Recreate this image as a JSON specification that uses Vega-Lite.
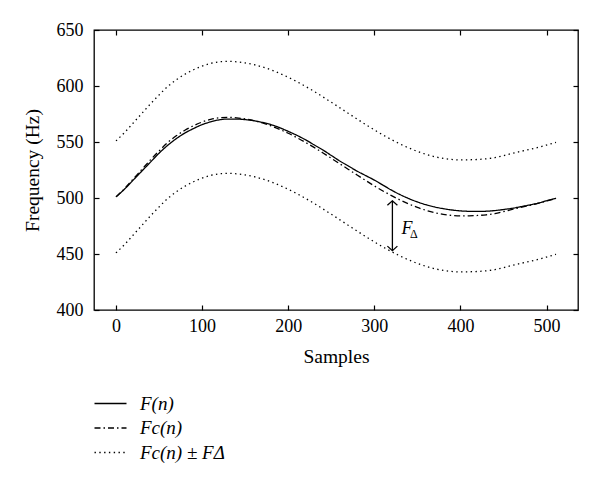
{
  "$schema": "https://vega.github.io/schema/vega-lite/v6.json",
  "width": 484,
  "height": 280,
  "autosize": {"type": "none"},
  "padding": {"left": 94, "top": 30, "right": 22, "bottom": 188},
  "background": "white",
  "config": {
    "view": {"stroke": "black", "strokeWidth": 1.3},
    "font": "Liberation Serif",
    "axis": {
      "domain": false,
      "grid": false,
      "tickSize": -5,
      "tickColor": "black",
      "tickWidth": 1.2,
      "labelColor": "black",
      "labelFont": "Liberation Serif",
      "labelFontSize": 18,
      "titleFont": "Liberation Serif",
      "titleFontSize": 19.5,
      "titleFontWeight": "normal",
      "titleColor": "black"
    },
    "legend": {
      "orient": "none",
      "legendX": 7,
      "legendY": 364,
      "symbolType": "M-3.2,0H3.2",
      "symbolSize": 100,
      "symbolStrokeWidth": 1.3,
      "symbolStrokeColor": "black",
      "labelFont": "Liberation Serif",
      "labelFontStyle": "italic",
      "labelFontSize": 19,
      "labelColor": "black",
      "labelOffset": 20,
      "rowPadding": 4.5,
      "title": null
    }
  },
  "datasets": {
    "curves": [
      {"sample":0,"freq":501,"series":"F(n)","part":"a"},
      {"sample":10,"freq":508,"series":"F(n)","part":"a"},
      {"sample":20,"freq":516,"series":"F(n)","part":"a"},
      {"sample":30,"freq":524,"series":"F(n)","part":"a"},
      {"sample":40,"freq":532,"series":"F(n)","part":"a"},
      {"sample":50,"freq":540,"series":"F(n)","part":"a"},
      {"sample":60,"freq":547,"series":"F(n)","part":"a"},
      {"sample":70,"freq":553,"series":"F(n)","part":"a"},
      {"sample":80,"freq":558,"series":"F(n)","part":"a"},
      {"sample":90,"freq":562,"series":"F(n)","part":"a"},
      {"sample":100,"freq":565.5,"series":"F(n)","part":"a"},
      {"sample":110,"freq":568,"series":"F(n)","part":"a"},
      {"sample":120,"freq":569.8,"series":"F(n)","part":"a"},
      {"sample":130,"freq":570.5,"series":"F(n)","part":"a"},
      {"sample":140,"freq":570.5,"series":"F(n)","part":"a"},
      {"sample":150,"freq":570,"series":"F(n)","part":"a"},
      {"sample":160,"freq":569,"series":"F(n)","part":"a"},
      {"sample":170,"freq":567.5,"series":"F(n)","part":"a"},
      {"sample":180,"freq":565.5,"series":"F(n)","part":"a"},
      {"sample":190,"freq":562.8,"series":"F(n)","part":"a"},
      {"sample":200,"freq":559.5,"series":"F(n)","part":"a"},
      {"sample":210,"freq":556,"series":"F(n)","part":"a"},
      {"sample":220,"freq":552,"series":"F(n)","part":"a"},
      {"sample":230,"freq":547.5,"series":"F(n)","part":"a"},
      {"sample":240,"freq":543,"series":"F(n)","part":"a"},
      {"sample":250,"freq":538,"series":"F(n)","part":"a"},
      {"sample":260,"freq":533,"series":"F(n)","part":"a"},
      {"sample":270,"freq":528.5,"series":"F(n)","part":"a"},
      {"sample":280,"freq":524,"series":"F(n)","part":"a"},
      {"sample":290,"freq":520,"series":"F(n)","part":"a"},
      {"sample":300,"freq":516,"series":"F(n)","part":"a"},
      {"sample":310,"freq":511.5,"series":"F(n)","part":"a"},
      {"sample":320,"freq":507,"series":"F(n)","part":"a"},
      {"sample":330,"freq":503,"series":"F(n)","part":"a"},
      {"sample":340,"freq":499.5,"series":"F(n)","part":"a"},
      {"sample":350,"freq":496.5,"series":"F(n)","part":"a"},
      {"sample":360,"freq":494,"series":"F(n)","part":"a"},
      {"sample":370,"freq":492,"series":"F(n)","part":"a"},
      {"sample":380,"freq":490.5,"series":"F(n)","part":"a"},
      {"sample":390,"freq":489.3,"series":"F(n)","part":"a"},
      {"sample":400,"freq":488.5,"series":"F(n)","part":"a"},
      {"sample":410,"freq":488.1,"series":"F(n)","part":"a"},
      {"sample":420,"freq":488,"series":"F(n)","part":"a"},
      {"sample":430,"freq":488.2,"series":"F(n)","part":"a"},
      {"sample":440,"freq":488.8,"series":"F(n)","part":"a"},
      {"sample":450,"freq":489.7,"series":"F(n)","part":"a"},
      {"sample":460,"freq":490.8,"series":"F(n)","part":"a"},
      {"sample":470,"freq":492.2,"series":"F(n)","part":"a"},
      {"sample":480,"freq":493.7,"series":"F(n)","part":"a"},
      {"sample":490,"freq":495.4,"series":"F(n)","part":"a"},
      {"sample":500,"freq":497.5,"series":"F(n)","part":"a"},
      {"sample":511,"freq":499.7,"series":"F(n)","part":"a"},

      {"sample":0,"freq":501,"series":"Fc(n)","part":"a"},
      {"sample":10,"freq":508.5,"series":"Fc(n)","part":"a"},
      {"sample":20,"freq":517,"series":"Fc(n)","part":"a"},
      {"sample":30,"freq":525.5,"series":"Fc(n)","part":"a"},
      {"sample":40,"freq":534,"series":"Fc(n)","part":"a"},
      {"sample":50,"freq":542,"series":"Fc(n)","part":"a"},
      {"sample":60,"freq":549.5,"series":"Fc(n)","part":"a"},
      {"sample":70,"freq":555.5,"series":"Fc(n)","part":"a"},
      {"sample":80,"freq":560.5,"series":"Fc(n)","part":"a"},
      {"sample":90,"freq":564.5,"series":"Fc(n)","part":"a"},
      {"sample":100,"freq":567.8,"series":"Fc(n)","part":"a"},
      {"sample":110,"freq":570.2,"series":"Fc(n)","part":"a"},
      {"sample":120,"freq":571.6,"series":"Fc(n)","part":"a"},
      {"sample":130,"freq":572,"series":"Fc(n)","part":"a"},
      {"sample":140,"freq":571.6,"series":"Fc(n)","part":"a"},
      {"sample":150,"freq":570.6,"series":"Fc(n)","part":"a"},
      {"sample":160,"freq":569.1,"series":"Fc(n)","part":"a"},
      {"sample":170,"freq":567,"series":"Fc(n)","part":"a"},
      {"sample":180,"freq":564.4,"series":"Fc(n)","part":"a"},
      {"sample":190,"freq":561.3,"series":"Fc(n)","part":"a"},
      {"sample":200,"freq":557.8,"series":"Fc(n)","part":"a"},
      {"sample":210,"freq":553.9,"series":"Fc(n)","part":"a"},
      {"sample":220,"freq":549.7,"series":"Fc(n)","part":"a"},
      {"sample":230,"freq":545.2,"series":"Fc(n)","part":"a"},
      {"sample":240,"freq":540.4,"series":"Fc(n)","part":"a"},
      {"sample":250,"freq":535.5,"series":"Fc(n)","part":"a"},
      {"sample":260,"freq":530.5,"series":"Fc(n)","part":"a"},
      {"sample":270,"freq":525.5,"series":"Fc(n)","part":"a"},
      {"sample":280,"freq":520.5,"series":"Fc(n)","part":"a"},
      {"sample":290,"freq":515.6,"series":"Fc(n)","part":"a"},
      {"sample":300,"freq":510.8,"series":"Fc(n)","part":"a"},
      {"sample":310,"freq":506.3,"series":"Fc(n)","part":"a"},
      {"sample":320,"freq":502.1,"series":"Fc(n)","part":"a"},
      {"sample":330,"freq":498.2,"series":"Fc(n)","part":"a"},
      {"sample":340,"freq":494.7,"series":"Fc(n)","part":"a"},
      {"sample":350,"freq":491.6,"series":"Fc(n)","part":"a"},
      {"sample":360,"freq":489,"series":"Fc(n)","part":"a"},
      {"sample":370,"freq":486.9,"series":"Fc(n)","part":"a"},
      {"sample":380,"freq":485.4,"series":"Fc(n)","part":"a"},
      {"sample":390,"freq":484.4,"series":"Fc(n)","part":"a"},
      {"sample":400,"freq":484,"series":"Fc(n)","part":"a"},
      {"sample":410,"freq":484.1,"series":"Fc(n)","part":"a"},
      {"sample":420,"freq":484.4,"series":"Fc(n)","part":"a"},
      {"sample":430,"freq":485,"series":"Fc(n)","part":"a"},
      {"sample":440,"freq":486,"series":"Fc(n)","part":"a"},
      {"sample":450,"freq":487.8,"series":"Fc(n)","part":"a"},
      {"sample":460,"freq":489.8,"series":"Fc(n)","part":"a"},
      {"sample":470,"freq":491.6,"series":"Fc(n)","part":"a"},
      {"sample":480,"freq":493.3,"series":"Fc(n)","part":"a"},
      {"sample":490,"freq":495.1,"series":"Fc(n)","part":"a"},
      {"sample":500,"freq":497.3,"series":"Fc(n)","part":"a"},
      {"sample":511,"freq":499.7,"series":"Fc(n)","part":"a"},

      {"sample":0,"freq":551,"series":"Fc(n) ± FΔ","part":"upper"},
      {"sample":10,"freq":558.5,"series":"Fc(n) ± FΔ","part":"upper"},
      {"sample":20,"freq":567,"series":"Fc(n) ± FΔ","part":"upper"},
      {"sample":30,"freq":575.5,"series":"Fc(n) ± FΔ","part":"upper"},
      {"sample":40,"freq":584,"series":"Fc(n) ± FΔ","part":"upper"},
      {"sample":50,"freq":592,"series":"Fc(n) ± FΔ","part":"upper"},
      {"sample":60,"freq":599.5,"series":"Fc(n) ± FΔ","part":"upper"},
      {"sample":70,"freq":605.5,"series":"Fc(n) ± FΔ","part":"upper"},
      {"sample":80,"freq":610.5,"series":"Fc(n) ± FΔ","part":"upper"},
      {"sample":90,"freq":614.5,"series":"Fc(n) ± FΔ","part":"upper"},
      {"sample":100,"freq":617.8,"series":"Fc(n) ± FΔ","part":"upper"},
      {"sample":110,"freq":620.2,"series":"Fc(n) ± FΔ","part":"upper"},
      {"sample":120,"freq":621.6,"series":"Fc(n) ± FΔ","part":"upper"},
      {"sample":130,"freq":622,"series":"Fc(n) ± FΔ","part":"upper"},
      {"sample":140,"freq":621.6,"series":"Fc(n) ± FΔ","part":"upper"},
      {"sample":150,"freq":620.6,"series":"Fc(n) ± FΔ","part":"upper"},
      {"sample":160,"freq":619.1,"series":"Fc(n) ± FΔ","part":"upper"},
      {"sample":170,"freq":617,"series":"Fc(n) ± FΔ","part":"upper"},
      {"sample":180,"freq":614.4,"series":"Fc(n) ± FΔ","part":"upper"},
      {"sample":190,"freq":611.3,"series":"Fc(n) ± FΔ","part":"upper"},
      {"sample":200,"freq":607.8,"series":"Fc(n) ± FΔ","part":"upper"},
      {"sample":210,"freq":603.9,"series":"Fc(n) ± FΔ","part":"upper"},
      {"sample":220,"freq":599.7,"series":"Fc(n) ± FΔ","part":"upper"},
      {"sample":230,"freq":595.2,"series":"Fc(n) ± FΔ","part":"upper"},
      {"sample":240,"freq":590.4,"series":"Fc(n) ± FΔ","part":"upper"},
      {"sample":250,"freq":585.5,"series":"Fc(n) ± FΔ","part":"upper"},
      {"sample":260,"freq":580.5,"series":"Fc(n) ± FΔ","part":"upper"},
      {"sample":270,"freq":575.5,"series":"Fc(n) ± FΔ","part":"upper"},
      {"sample":280,"freq":570.5,"series":"Fc(n) ± FΔ","part":"upper"},
      {"sample":290,"freq":565.6,"series":"Fc(n) ± FΔ","part":"upper"},
      {"sample":300,"freq":560.8,"series":"Fc(n) ± FΔ","part":"upper"},
      {"sample":310,"freq":556.3,"series":"Fc(n) ± FΔ","part":"upper"},
      {"sample":320,"freq":552.1,"series":"Fc(n) ± FΔ","part":"upper"},
      {"sample":330,"freq":548.2,"series":"Fc(n) ± FΔ","part":"upper"},
      {"sample":340,"freq":544.7,"series":"Fc(n) ± FΔ","part":"upper"},
      {"sample":350,"freq":541.6,"series":"Fc(n) ± FΔ","part":"upper"},
      {"sample":360,"freq":539,"series":"Fc(n) ± FΔ","part":"upper"},
      {"sample":370,"freq":536.9,"series":"Fc(n) ± FΔ","part":"upper"},
      {"sample":380,"freq":535.4,"series":"Fc(n) ± FΔ","part":"upper"},
      {"sample":390,"freq":534.4,"series":"Fc(n) ± FΔ","part":"upper"},
      {"sample":400,"freq":534,"series":"Fc(n) ± FΔ","part":"upper"},
      {"sample":410,"freq":534.1,"series":"Fc(n) ± FΔ","part":"upper"},
      {"sample":420,"freq":534.4,"series":"Fc(n) ± FΔ","part":"upper"},
      {"sample":430,"freq":535,"series":"Fc(n) ± FΔ","part":"upper"},
      {"sample":440,"freq":536,"series":"Fc(n) ± FΔ","part":"upper"},
      {"sample":450,"freq":537.8,"series":"Fc(n) ± FΔ","part":"upper"},
      {"sample":460,"freq":539.8,"series":"Fc(n) ± FΔ","part":"upper"},
      {"sample":470,"freq":541.6,"series":"Fc(n) ± FΔ","part":"upper"},
      {"sample":480,"freq":543.3,"series":"Fc(n) ± FΔ","part":"upper"},
      {"sample":490,"freq":545.1,"series":"Fc(n) ± FΔ","part":"upper"},
      {"sample":500,"freq":547.3,"series":"Fc(n) ± FΔ","part":"upper"},
      {"sample":511,"freq":549.7,"series":"Fc(n) ± FΔ","part":"upper"},

      {"sample":0,"freq":451,"series":"Fc(n) ± FΔ","part":"lower"},
      {"sample":10,"freq":458.5,"series":"Fc(n) ± FΔ","part":"lower"},
      {"sample":20,"freq":467,"series":"Fc(n) ± FΔ","part":"lower"},
      {"sample":30,"freq":475.5,"series":"Fc(n) ± FΔ","part":"lower"},
      {"sample":40,"freq":484,"series":"Fc(n) ± FΔ","part":"lower"},
      {"sample":50,"freq":492,"series":"Fc(n) ± FΔ","part":"lower"},
      {"sample":60,"freq":499.5,"series":"Fc(n) ± FΔ","part":"lower"},
      {"sample":70,"freq":505.5,"series":"Fc(n) ± FΔ","part":"lower"},
      {"sample":80,"freq":510.5,"series":"Fc(n) ± FΔ","part":"lower"},
      {"sample":90,"freq":514.5,"series":"Fc(n) ± FΔ","part":"lower"},
      {"sample":100,"freq":517.8,"series":"Fc(n) ± FΔ","part":"lower"},
      {"sample":110,"freq":520.2,"series":"Fc(n) ± FΔ","part":"lower"},
      {"sample":120,"freq":521.6,"series":"Fc(n) ± FΔ","part":"lower"},
      {"sample":130,"freq":522,"series":"Fc(n) ± FΔ","part":"lower"},
      {"sample":140,"freq":521.6,"series":"Fc(n) ± FΔ","part":"lower"},
      {"sample":150,"freq":520.6,"series":"Fc(n) ± FΔ","part":"lower"},
      {"sample":160,"freq":519.1,"series":"Fc(n) ± FΔ","part":"lower"},
      {"sample":170,"freq":517,"series":"Fc(n) ± FΔ","part":"lower"},
      {"sample":180,"freq":514.4,"series":"Fc(n) ± FΔ","part":"lower"},
      {"sample":190,"freq":511.3,"series":"Fc(n) ± FΔ","part":"lower"},
      {"sample":200,"freq":507.8,"series":"Fc(n) ± FΔ","part":"lower"},
      {"sample":210,"freq":503.9,"series":"Fc(n) ± FΔ","part":"lower"},
      {"sample":220,"freq":499.7,"series":"Fc(n) ± FΔ","part":"lower"},
      {"sample":230,"freq":495.2,"series":"Fc(n) ± FΔ","part":"lower"},
      {"sample":240,"freq":490.4,"series":"Fc(n) ± FΔ","part":"lower"},
      {"sample":250,"freq":485.5,"series":"Fc(n) ± FΔ","part":"lower"},
      {"sample":260,"freq":480.5,"series":"Fc(n) ± FΔ","part":"lower"},
      {"sample":270,"freq":475.5,"series":"Fc(n) ± FΔ","part":"lower"},
      {"sample":280,"freq":470.5,"series":"Fc(n) ± FΔ","part":"lower"},
      {"sample":290,"freq":465.6,"series":"Fc(n) ± FΔ","part":"lower"},
      {"sample":300,"freq":460.8,"series":"Fc(n) ± FΔ","part":"lower"},
      {"sample":310,"freq":456.3,"series":"Fc(n) ± FΔ","part":"lower"},
      {"sample":320,"freq":452.1,"series":"Fc(n) ± FΔ","part":"lower"},
      {"sample":330,"freq":448.2,"series":"Fc(n) ± FΔ","part":"lower"},
      {"sample":340,"freq":444.7,"series":"Fc(n) ± FΔ","part":"lower"},
      {"sample":350,"freq":441.6,"series":"Fc(n) ± FΔ","part":"lower"},
      {"sample":360,"freq":439,"series":"Fc(n) ± FΔ","part":"lower"},
      {"sample":370,"freq":436.9,"series":"Fc(n) ± FΔ","part":"lower"},
      {"sample":380,"freq":435.4,"series":"Fc(n) ± FΔ","part":"lower"},
      {"sample":390,"freq":434.4,"series":"Fc(n) ± FΔ","part":"lower"},
      {"sample":400,"freq":434,"series":"Fc(n) ± FΔ","part":"lower"},
      {"sample":410,"freq":434.1,"series":"Fc(n) ± FΔ","part":"lower"},
      {"sample":420,"freq":434.4,"series":"Fc(n) ± FΔ","part":"lower"},
      {"sample":430,"freq":435,"series":"Fc(n) ± FΔ","part":"lower"},
      {"sample":440,"freq":436,"series":"Fc(n) ± FΔ","part":"lower"},
      {"sample":450,"freq":437.8,"series":"Fc(n) ± FΔ","part":"lower"},
      {"sample":460,"freq":439.8,"series":"Fc(n) ± FΔ","part":"lower"},
      {"sample":470,"freq":441.6,"series":"Fc(n) ± FΔ","part":"lower"},
      {"sample":480,"freq":443.3,"series":"Fc(n) ± FΔ","part":"lower"},
      {"sample":490,"freq":445.1,"series":"Fc(n) ± FΔ","part":"lower"},
      {"sample":500,"freq":447.3,"series":"Fc(n) ± FΔ","part":"lower"},
      {"sample":511,"freq":449.7,"series":"Fc(n) ± FΔ","part":"lower"}
    ],
    "arrow": [{"sample": 321, "lo": 453, "hi": 497.5}],
    "heads": [{"sample": 321, "freq": 497.5, "end": "top"}, {"sample": 321, "freq": 453, "end": "bottom"}],
    "notes": [{"sample": 331.5, "freq": 468, "text": "F"}, {"sample": 341.5, "freq": 464, "text": "Δ"}]
  },
  "layer": [
    {
      "data": {"name": "curves"},
      "mark": {"type": "line", "interpolate": "monotone", "strokeWidth": 1.3, "color": "black"},
      "encoding": {
        "x": {"field": "sample", "type": "quantitative",
              "scale": {"domain": [-25.55, 536.55], "nice": false, "zero": false},
              "axis": {"orient": "bottom", "values": [0, 100, 200, 300, 400, 500], "title": "Samples", "labelPadding": 12, "titlePadding": 12}},
        "y": {"field": "freq", "type": "quantitative",
              "scale": {"domain": [400, 650], "nice": false, "zero": false},
              "axis": {"orient": "left", "values": [400, 450, 500, 550, 600, 650], "title": "Frequency (Hz)", "labelPadding": 16, "titlePadding": 14}},
        "strokeDash": {"field": "series", "type": "nominal",
                       "scale": {"domain": ["F(n)", "Fc(n)", "Fc(n) ± FΔ"], "range": [[1, 0], [6, 3, 1.5, 3], [1.4, 3.4]]},
                       "legend": {"title": null}},
        "detail": {"field": "part", "type": "nominal"}
      }
    },
    {
      "data": {"name": "arrow"},
      "mark": {"type": "rule", "color": "black", "strokeWidth": 1.3},
      "encoding": {
        "x": {"field": "sample", "type": "quantitative",
              "axis": {"orient": "top", "values": [0, 100, 200, 300, 400, 500], "labels": false, "title": null}},
        "y": {"field": "lo", "type": "quantitative",
              "axis": {"orient": "right", "values": [400, 450, 500, 550, 600, 650], "labels": false, "title": null}},
        "y2": {"field": "hi"}
      }
    },
    {
      "data": {"name": "heads"},
      "transform": [{"filter": "datum.end === 'top'"}],
      "mark": {"type": "point", "shape": "M-1,0.9L0,0L1,0.9", "size": 100, "filled": false, "stroke": "black", "strokeWidth": 1.3, "opacity": 1},
      "encoding": {
        "x": {"field": "sample", "type": "quantitative", "axis": null},
        "y": {"field": "freq", "type": "quantitative", "axis": null}
      }
    },
    {
      "data": {"name": "heads"},
      "transform": [{"filter": "datum.end === 'bottom'"}],
      "mark": {"type": "point", "shape": "M-1,-0.9L0,0L1,-0.9", "size": 100, "filled": false, "stroke": "black", "strokeWidth": 1.3, "opacity": 1},
      "encoding": {
        "x": {"field": "sample", "type": "quantitative", "axis": null},
        "y": {"field": "freq", "type": "quantitative", "axis": null}
      }
    },
    {
      "data": {"name": "notes"},
      "transform": [{"filter": "datum.text === 'F'"}],
      "mark": {"type": "text", "align": "left", "baseline": "alphabetic", "font": "Liberation Serif", "fontStyle": "italic", "fontSize": 18, "color": "black"},
      "encoding": {
        "x": {"field": "sample", "type": "quantitative", "axis": null},
        "y": {"field": "freq", "type": "quantitative", "axis": null},
        "text": {"field": "text"}
      }
    },
    {
      "data": {"name": "notes"},
      "transform": [{"filter": "datum.text === 'Δ'"}],
      "mark": {"type": "text", "align": "left", "baseline": "alphabetic", "font": "Liberation Serif", "fontSize": 12, "color": "black"},
      "encoding": {
        "x": {"field": "sample", "type": "quantitative", "axis": null},
        "y": {"field": "freq", "type": "quantitative", "axis": null},
        "text": {"field": "text"}
      }
    }
  ],
  "resolve": {"axis": {"x": "independent", "y": "independent"}}
}
